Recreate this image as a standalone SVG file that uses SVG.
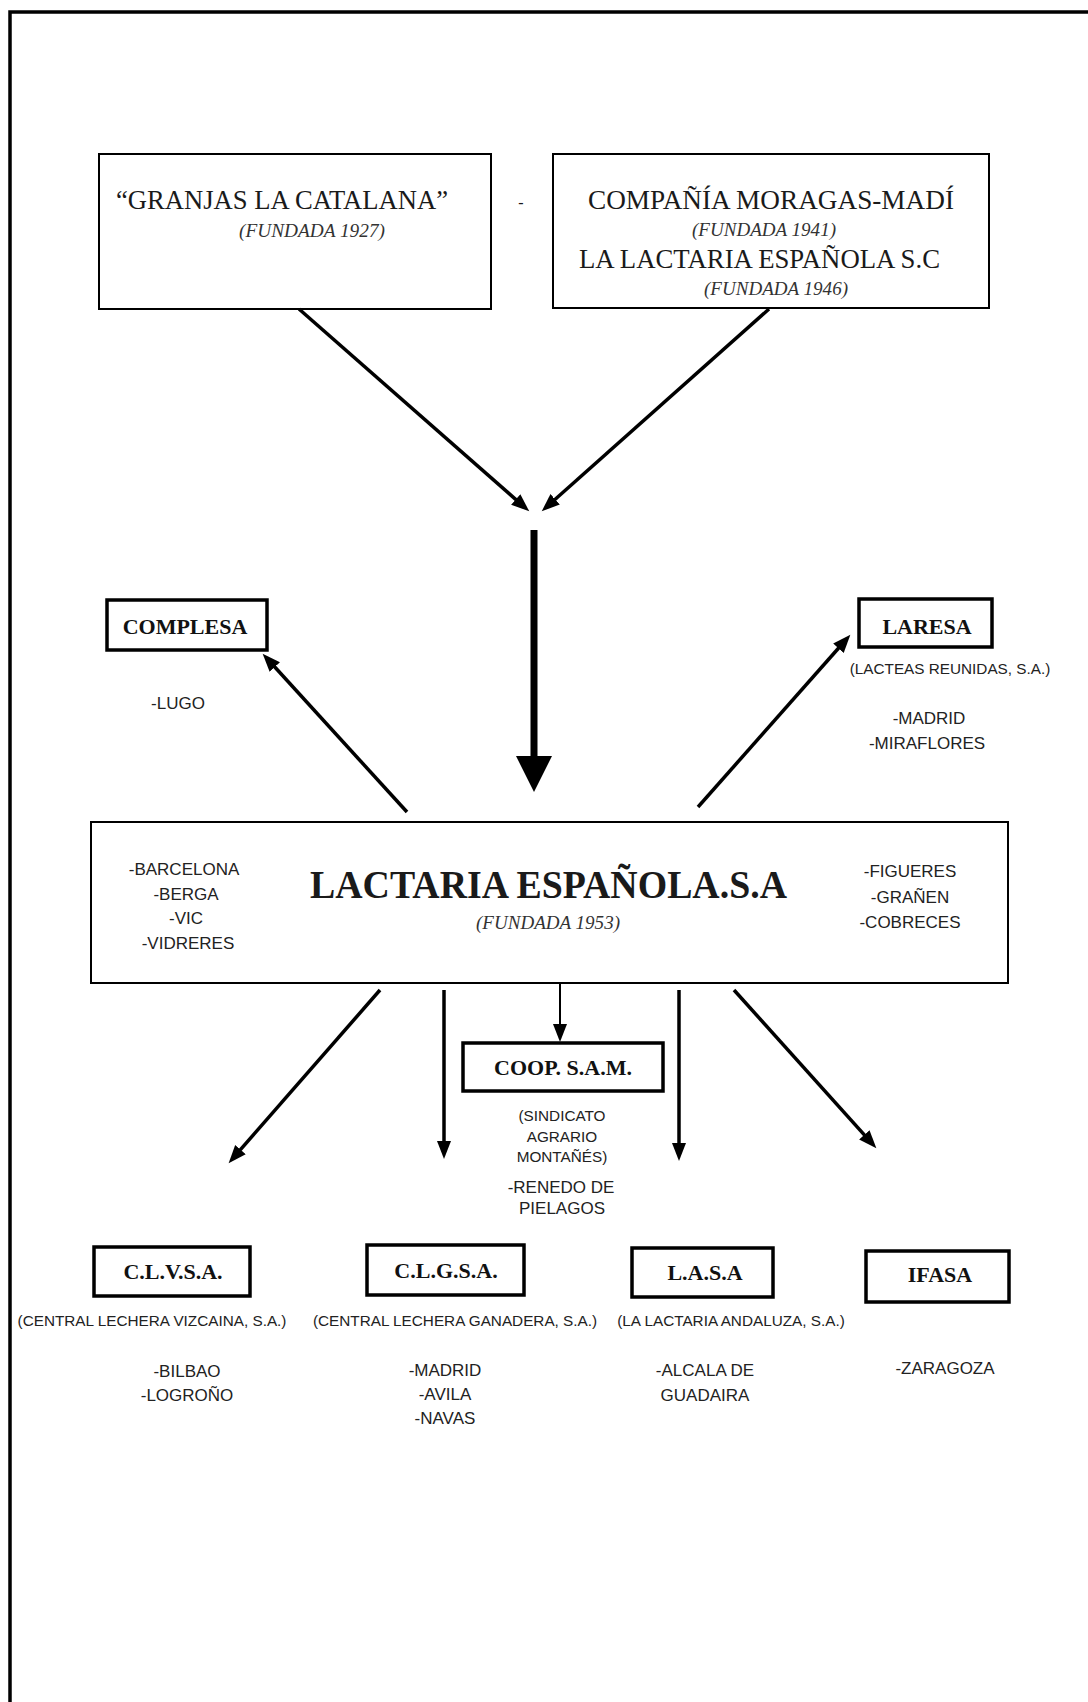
<svg xmlns="http://www.w3.org/2000/svg" width="1088" height="1702" viewBox="0 0 1088 1702">
<defs>
<marker id="ah" markerUnits="userSpaceOnUse" markerWidth="20" markerHeight="16" refX="1" refY="7" orient="auto"><path d="M0,0 L18,7 L0,14 Z" fill="#000"/></marker>
<marker id="ahBig" markerUnits="userSpaceOnUse" markerWidth="40" markerHeight="40" refX="1" refY="18" orient="auto"><path d="M0,0 L36,18 L0,36 Z" fill="#000"/></marker>
</defs>
<style>
.serif{font-family:"Liberation Serif","Times New Roman",serif;fill:#1a1a1a}
.it{font-family:"Liberation Serif","Times New Roman",serif;font-style:italic;font-size:18px;fill:#333}
.lbl{font-family:"Liberation Serif","Times New Roman",serif;font-weight:bold;font-size:22px;fill:#111;text-anchor:middle}
.city{font-family:"Liberation Sans",Arial,sans-serif;font-size:17px;fill:#222;text-anchor:middle}
.note{font-family:"Liberation Sans",Arial,sans-serif;font-size:15.3px;fill:#222;text-anchor:middle}
.box{fill:#fff;stroke:#000;stroke-width:2}
.tbox{fill:#fff;stroke:#000;stroke-width:3.5}
.c{stroke:#000;stroke-width:3.5;fill:none}
</style>
<rect width="1088" height="1702" fill="#fff"/>
<path d="M10,1702 V12 H1088" fill="none" stroke="#000" stroke-width="3.5"/>

<g id="granjas">
<rect class="box" x="99" y="154" width="392" height="155"/>
<text class="serif" x="116" y="209" font-size="26.5" textLength="332" lengthAdjust="spacingAndGlyphs">“GRANJAS LA CATALANA”</text>
<text class="it" x="239" y="237" textLength="146" lengthAdjust="spacingAndGlyphs">(FUNDADA 1927)</text>
</g>
<text class="serif" x="521" y="208" font-size="16" text-anchor="middle">-</text>
<g id="moragas">
<rect class="box" x="553" y="154" width="436" height="154"/>
<text class="serif" x="588" y="209" font-size="26.5" textLength="366" lengthAdjust="spacingAndGlyphs">COMPAÑÍA MORAGAS-MADÍ</text>
<text class="it" x="692" y="236" textLength="144" lengthAdjust="spacingAndGlyphs">(FUNDADA 1941)</text>
<text class="serif" x="579" y="268" font-size="26.5" textLength="361" lengthAdjust="spacingAndGlyphs">LA LACTARIA ESPAÑOLA S.C</text>
<text class="it" x="704" y="295" textLength="144" lengthAdjust="spacingAndGlyphs">(FUNDADA 1946)</text>
</g>

<g id="complesa">
<rect class="tbox" x="107" y="600" width="160" height="50"/>
<text class="lbl" x="185" y="634">COMPLESA</text>
<text class="city" x="178" y="709">-LUGO</text>
</g>
<g id="laresa">
<rect class="tbox" x="859" y="599" width="133" height="48"/>
<text class="lbl" x="927" y="634">LARESA</text>
<text class="note" x="950" y="673.5">(LACTEAS REUNIDAS, S.A.)</text>
<text class="city" x="929" y="724">-MADRID</text>
<text class="city" x="927" y="749">-MIRAFLORES</text>
</g>

<g id="lactaria">
<rect class="box" x="91" y="822" width="917" height="161"/>
<text class="serif" x="310" y="898" font-size="41" font-weight="bold" fill="#000" textLength="477" lengthAdjust="spacingAndGlyphs">LACTARIA ESPAÑOLA.S.A</text>
<text class="it" x="476" y="929" textLength="144" lengthAdjust="spacingAndGlyphs">(FUNDADA 1953)</text>
<text class="city" x="184" y="875">-BARCELONA</text>
<text class="city" x="186" y="899.5">-BERGA</text>
<text class="city" x="186" y="924">-VIC</text>
<text class="city" x="188" y="948.5">-VIDRERES</text>
<text class="city" x="910" y="877">-FIGUERES</text>
<text class="city" x="910" y="902.5">-GRAÑEN</text>
<text class="city" x="910" y="928">-COBRECES</text>
</g>

<g id="coop">
<rect class="tbox" x="463" y="1043" width="200" height="48"/>
<text class="lbl" x="563" y="1075">COOP. S.A.M.</text>
<text class="note" x="562" y="1120.5">(SINDICATO</text>
<text class="note" x="562" y="1141.5">AGRARIO</text>
<text class="note" x="562" y="1161.5">MONTAÑÉS)</text>
<text class="city" x="561" y="1193">-RENEDO DE</text>
<text class="city" x="562" y="1214">PIELAGOS</text>
</g>

<g id="clvsa">
<rect class="tbox" x="94" y="1247" width="156" height="49"/>
<text class="lbl" x="173" y="1279">C.L.V.S.A.</text>
<text class="note" x="152" y="1325.5">(CENTRAL LECHERA VIZCAINA, S.A.)</text>
<text class="city" x="187" y="1377">-BILBAO</text>
<text class="city" x="187" y="1401">-LOGROÑO</text>
</g>
<g id="clgsa">
<rect class="tbox" x="367" y="1245" width="157" height="50"/>
<text class="lbl" x="446" y="1278">C.L.G.S.A.</text>
<text class="note" x="455" y="1325.5">(CENTRAL LECHERA GANADERA, S.A.)</text>
<text class="city" x="445" y="1376">-MADRID</text>
<text class="city" x="445" y="1400">-AVILA</text>
<text class="city" x="445" y="1424">-NAVAS</text>
</g>
<g id="lasa">
<rect class="tbox" x="632" y="1248" width="141" height="49"/>
<text class="lbl" x="705" y="1280">L.A.S.A</text>
<text class="note" x="731" y="1325.5">(LA LACTARIA ANDALUZA, S.A.)</text>
<text class="city" x="705" y="1376">-ALCALA DE</text>
<text class="city" x="705" y="1401">GUADAIRA</text>
</g>
<g id="ifasa">
<rect class="tbox" x="866" y="1251" width="143" height="51"/>
<text class="lbl" x="940" y="1282">IFASA</text>
<text class="city" x="945" y="1374">-ZARAGOZA</text>
</g>

<g id="connectors">
<line class="c" x1="299" y1="309" x2="516.5" y2="500.1" marker-end="url(#ah)"/>
<line class="c" x1="769" y1="309" x2="554.4" y2="500" marker-end="url(#ah)"/>
<line x1="534" y1="530" x2="534" y2="757" stroke="#000" stroke-width="7" marker-end="url(#ahBig)"/>
<line class="c" x1="407" y1="812" x2="274.1" y2="666.3" marker-end="url(#ah)"/>
<line class="c" x1="698" y1="807" x2="839.1" y2="647.5" marker-end="url(#ah)"/>
<line class="c" x1="380" y1="990" x2="239.8" y2="1150.4" marker-end="url(#ah)"/>
<line class="c" x1="444" y1="990" x2="444" y2="1142" marker-end="url(#ah)"/>
<line x1="560" y1="983" x2="560" y2="1025" stroke="#000" stroke-width="2" marker-end="url(#ah)"/>
<line class="c" x1="679" y1="990" x2="679" y2="1144" marker-end="url(#ah)"/>
<line class="c" x1="734" y1="990" x2="865" y2="1135.6" marker-end="url(#ah)"/>
</g>
</svg>
